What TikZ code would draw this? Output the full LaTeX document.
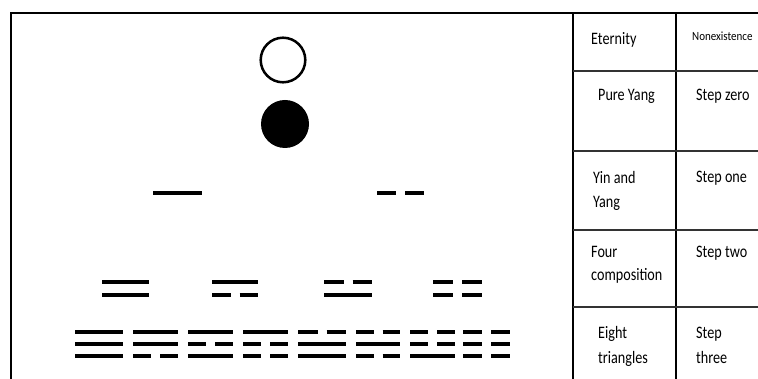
\documentclass[tikz,border=0pt]{standalone}
\usepackage{fontspec}
\setmainfont{Carlito}
\newfontfamily\tabfont[FakeStretch=0.81]{Carlito}
\newfontfamily\smallfont[FakeStretch=0.88]{Carlito}
\newcommand\yangline[3]{\draw[bar] (#1,#3) -- (#2,#3);}
\newcommand\yinline[3]{\draw[bar] (#1,#3) -- ({(#1+#2)/2-4.5},#3) ({(#1+#2)/2+4.5},#3) -- (#2,#3);}
\newcommand\yaoline[4]{\ifnum#4=1 \yangline{#1}{#2}{#3}\else\yinline{#1}{#2}{#3}\fi}
\begin{document}
\begin{tikzpicture}[x=1pt,y=-1pt,
  bar/.style={line width=3.8pt},
  frame/.style={line width=2.2pt},
  grid/.style={line width=1.4pt},
  hgrid/.style={line width=1.1pt, black!80},
  lbl/.style={anchor=base west, inner sep=0pt, align=left,
    font=\tabfont\fontsize{17.5}{24.5}\selectfont}]
\useasboundingbox (0,0) rectangle (758,379);
% frame
\draw[frame] (758,13) -- (11,13) -- (11,379);
% table
\draw[grid] (573,13) -- (573,379);
\draw[grid] (676,13) -- (676,379);
\foreach \yy in {71,151,230,307} \draw[hgrid] (573,\yy) -- (758,\yy);
% circles
\draw[line width=2.5pt] (283,60) circle (22.3);
\fill (285,124) circle (24);
% step one
\yangline{153}{202}{193}
\yinline{377}{424}{193}
% step two
\foreach \xa/\xb/\t/\b in {102/149/1/1, 212/258/1/0, 324/372/0/1, 433/482/0/0}{
  \yaoline{\xa}{\xb}{282}{\t}
  \yaoline{\xa}{\xb}{295}{\b}
}
% step three
\foreach \xa/\xb/\t/\m/\b in {75/123/1/1/1, 133/178/1/1/0, 188/233/1/0/1, 243/288/1/0/0,
  298/346/0/1/1, 356/400/0/1/0, 410/455/0/0/1, 463/510/0/0/0}{
  \yaoline{\xa}{\xb}{332}{\t}
  \yaoline{\xa}{\xb}{344}{\m}
  \yaoline{\xa}{\xb}{356}{\b}
}
% labels
\node[lbl] (eternity) at (591,45) {Eternity};
\node[lbl, font=\smallfont\fontsize{12.5}{15}\selectfont] (nonex) at (692,41) {Nonexistence};
\node[lbl] (pureyang) at (598,101) {Pure Yang};
\node[lbl] (stepzero) at (696,101) {Step zero};
\node[lbl] (yinyang) at (593,208) {Yin and\\Yang};
\node[lbl] (stepone) at (696,183) {Step one};
\node[lbl, font=\tabfont\fontsize{17.5}{23}\selectfont] (four) at (591,281) {Four\\composition};
\node[lbl] (steptwo) at (696,258) {Step two};
\node[lbl] (eight) at (598,363) {Eight\\triangles};
\node[lbl] (stepthree) at (696,363) {Step\\three};
\end{tikzpicture}
\end{document}
